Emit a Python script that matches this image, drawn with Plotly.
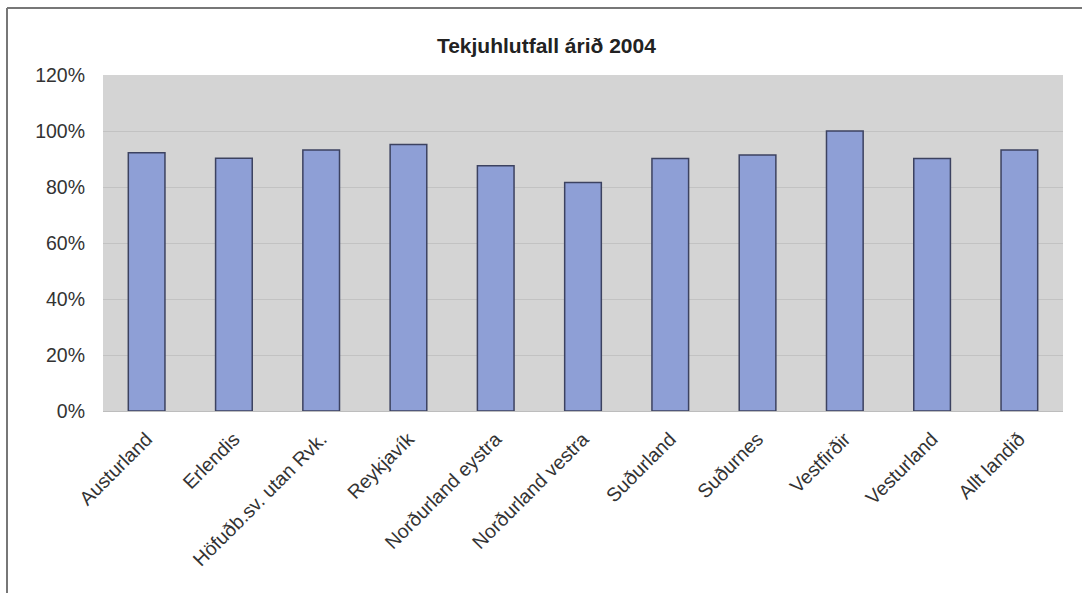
import plotly.graph_objects as go

categories = ["Austurland", "Erlendis", "Höfuðb.sv. utan Rvk.", "Reykjavík",
              "Norðurland eystra", "Norðurland vestra", "Suðurland", "Suðurnes",
              "Vestfirðir", "Vesturland", "Allt landið"]
values = [92.2, 90.3, 93.2, 95.2, 87.6, 81.6, 90.2, 91.4, 100.0, 90.2, 93.2]
y_ticks = [0, 20, 40, 60, 80, 100, 120]
title = "Tekjuhlutfall árið 2004"

W, H = 1082, 593
L, R, T, B = 103, 19, 75, 182

fig = go.Figure(go.Bar(
    x=categories, y=values,
    marker=dict(color="#8e9fd6", line=dict(color="#3c4260", width=1.5)),
    width=0.42,
))

fig.update_layout(
    width=W, height=H,
    margin=dict(l=L, r=R, t=T, b=B),
    paper_bgcolor="white",
    plot_bgcolor="#d4d4d4",
    showlegend=False,
    font=dict(family="Liberation Sans, Arial, sans-serif", color="#333333"),
    title=dict(text="<b>" + title + "</b>", x=0.505, xanchor="center",
               y=1 - 46 / H, yanchor="middle", font=dict(size=21, color="#222222")),
    xaxis=dict(tickangle=-45, tickfont=dict(size=19.5), showgrid=False,
               showline=True, linecolor="#bdbdbd", ticks="", ticklabelstandoff=8),
    yaxis=dict(range=[0, 120], tickvals=y_ticks, ticktext=[f"{v}%" for v in y_ticks],
               tickfont=dict(size=19.5), showgrid=True, gridcolor="#c2c2c2",
               gridwidth=1, zeroline=False, ticks="", ticklabelstandoff=17),
    shapes=[
        dict(type="line", xref="paper", yref="paper",
             x0=-(L - 7) / (W - L - R), x1=(W - L) / (W - L - R) + 0.01,
             y0=1 + (T - 8) / (H - T - B), y1=1 + (T - 8) / (H - T - B),
             line=dict(color="#777777", width=2)),
        dict(type="line", xref="paper", yref="paper",
             x0=-(L - 7) / (W - L - R), x1=-(L - 7) / (W - L - R),
             y0=1 + (T - 8) / (H - T - B), y1=-(B + 5) / (H - T - B),
             line=dict(color="#777777", width=2)),
    ],
)

fig.write_html("out.html")
